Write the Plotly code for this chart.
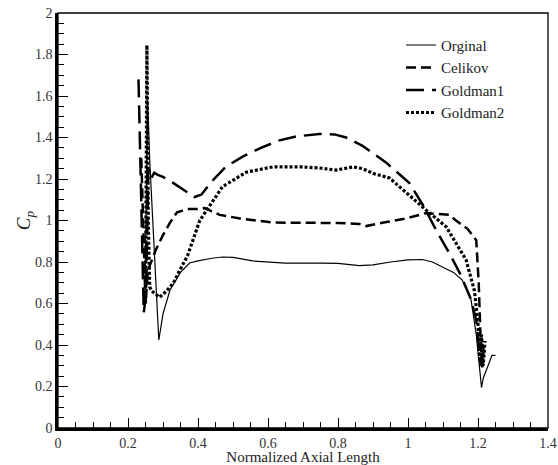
import plotly.graph_objects as go

# ---- data ----
orig_x = [0.248, 0.256, 0.262, 0.275, 0.288, 0.30, 0.32, 0.35, 0.376, 0.40, 0.44, 0.47, 0.50, 0.556,
          0.60, 0.65, 0.75, 0.80, 0.861, 0.90, 0.95, 1.00, 1.04, 1.07, 1.098, 1.13, 1.155, 1.18,
          1.195, 1.205, 1.21, 1.215, 1.23, 1.24, 1.25]
orig_y = [0.60, 1.58, 1.29, 0.86, 0.424, 0.55, 0.665, 0.75, 0.795, 0.805, 0.818, 0.824, 0.822, 0.805,
          0.80, 0.795, 0.795, 0.793, 0.783, 0.786, 0.80, 0.81, 0.812, 0.80, 0.776, 0.75, 0.713, 0.62,
          0.45, 0.27, 0.195, 0.24, 0.31, 0.35, 0.35]

celi_x = [0.238, 0.244, 0.25, 0.257, 0.28, 0.30, 0.32, 0.34, 0.37, 0.396, 0.419, 0.462, 0.52, 0.613,
          0.70, 0.80, 0.861, 0.88, 0.93, 0.995, 1.052, 1.118, 1.137, 1.17, 1.195, 1.202, 1.207,
          1.212, 1.216]
celi_y = [1.30, 0.90, 0.60, 0.76, 0.86, 0.93, 0.99, 1.04, 1.055, 1.055, 1.06, 1.027, 1.01, 0.99,
          0.99, 0.988, 0.983, 0.973, 0.99, 1.01, 1.036, 1.027, 1.00, 0.96, 0.905, 0.70, 0.45,
          0.28, 0.40]

gol1_x = [0.23, 0.245, 0.252, 0.258, 0.265, 0.275, 0.285, 0.30, 0.33, 0.35, 0.376, 0.39, 0.41, 0.44,
          0.48, 0.53, 0.58, 0.63, 0.68, 0.747, 0.79, 0.823, 0.87, 0.937, 1.004, 1.046, 1.08, 1.118,
          1.15, 1.18, 1.195, 1.203, 1.208, 1.212, 1.216]
gol1_y = [1.68, 0.555, 0.65, 1.25, 1.20, 1.23, 1.22, 1.21, 1.18, 1.157, 1.13, 1.113, 1.125, 1.19,
          1.26, 1.31, 1.35, 1.385, 1.405, 1.417, 1.415, 1.40, 1.36, 1.28, 1.18, 1.065, 0.954, 0.843,
          0.74, 0.62, 0.52, 0.38, 0.30, 0.40, 0.35]

gol2_x = [0.25, 0.254, 0.258, 0.262, 0.268, 0.29, 0.31, 0.33, 0.353, 0.37, 0.405, 0.44, 0.47, 0.538,
          0.613, 0.70, 0.747, 0.795, 0.842, 0.87, 0.90, 0.947, 0.995, 1.052, 1.109, 1.166, 1.19,
          1.20, 1.205, 1.21, 1.215, 1.22]
gol2_y = [0.60, 1.845, 1.00, 0.68, 0.66, 0.63, 0.66, 0.70, 0.777, 0.83, 1.00, 1.09, 1.163, 1.233,
          1.258, 1.258, 1.253, 1.243, 1.258, 1.25, 1.227, 1.205, 1.133, 1.05, 0.97, 0.81, 0.66,
          0.50, 0.32, 0.45, 0.30, 0.42]

names = ["Orginal", "Celikov", "Goldman1", "Goldman2"]

FONT = "Liberation Serif"

fig = go.Figure()
fig.add_trace(go.Scatter(x=orig_x, y=orig_y, mode="lines", name=names[0],
                         line=dict(color="black", width=1.2)))
fig.add_trace(go.Scatter(x=celi_x, y=celi_y, mode="lines", name=names[1],
                         line=dict(color="black", width=2.5, dash="10px,5px")))
fig.add_trace(go.Scatter(x=gol1_x, y=gol1_y, mode="lines", name=names[2],
                         line=dict(color="black", width=2.5, dash="18px,8px")))
fig.add_trace(go.Scatter(x=gol2_x, y=gol2_y, mode="lines", name=names[3],
                         line=dict(color="black", width=3.2, dash="3px,2px")))

axis_common = dict(
    showgrid=False, zeroline=False, showline=True, linecolor="black", linewidth=2.5,
    ticks="inside", ticklen=10, tickwidth=1.3, tickcolor="black",
    tickfont=dict(family=FONT, size=14, color="#333"),
    minor=dict(ticks="inside", ticklen=6, tickwidth=1.3, tickcolor="black", dtick=0.05),
    dtick=0.2, tick0=0, automargin=False,
)

fig.update_xaxes(range=[0, 1.4], **axis_common,
                 title=dict(text="Normalized Axial Length", font=dict(family=FONT, size=15, color="#222"),
                            standoff=4))
fig.update_yaxes(range=[0, 2], **axis_common,
                 title=dict(text="<i>C<sub>p</sub></i>", font=dict(family=FONT, size=19, color="#222"),
                            standoff=0))

fig.update_layout(
    width=558, height=465,
    margin=dict(l=58, r=10, t=13, b=37),
    paper_bgcolor="white", plot_bgcolor="white",
    showlegend=True,
    legend=dict(x=0.70, y=0.962, xanchor="left", yanchor="top",
                font=dict(family=FONT, size=15, color="#222"),
                bgcolor="rgba(0,0,0,0)", tracegroupgap=0),
    shapes=[dict(type="rect", xref="paper", yref="paper", x0=0, y0=0, x1=1, y1=1,
                 line=dict(color="black", width=1.3))],
)

fig.write_html("out.html")
